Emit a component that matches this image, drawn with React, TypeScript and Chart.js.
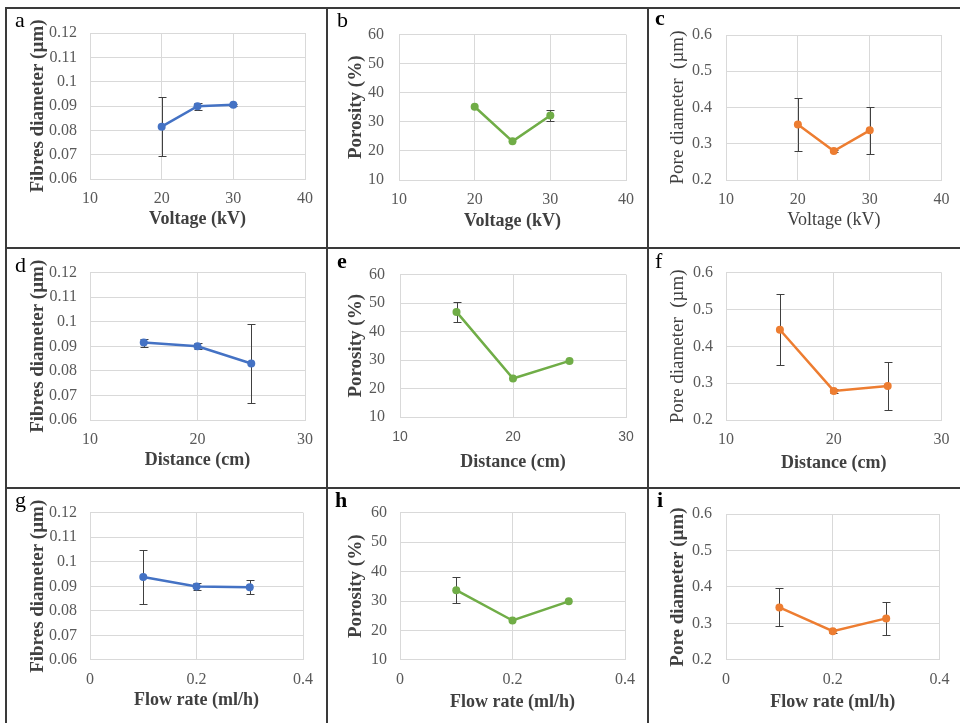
import React, { useEffect, useRef } from 'react';
import { Chart, registerables } from 'chart.js';

Chart.register(...registerables);

// ---------- data ----------
const voltage = [20, 25, 30];
const distance = [15, 20, 25];
const flowRate = [0.1, 0.2, 0.3];

const fibreVoltage = [0.0815, 0.0899, 0.0905];
const fibreVoltageErr = [0.012, 0.0014, 0.0005];
const porosityVoltage = [35.2, 23.3, 32.2];
const porosityVoltageErr = [0, 0, 2.0];
const poreVoltage = [0.353, 0.28, 0.337];
const poreVoltageErr = [0.073, 0.004, 0.065];

const fibreDistance = [0.0915, 0.09, 0.083];
const fibreDistanceErr = [0.0016, 0.0013, 0.016];
const porosityDistance = [46.9, 23.5, 29.7];
const porosityDistanceErr = [3.6, 0, 0];
const poreDistance = [0.445, 0.279, 0.292];
const poreDistanceErr = [0.096, 0.005, 0.065];

const fibreFlow = [0.0938, 0.0899, 0.0896];
const fibreFlowErr = [0.011, 0.0013, 0.0029];
const porosityFlow = [33.7, 23.4, 29.9];
const porosityFlowErr = [4.4, 0, 0];
const poreFlow = [0.344, 0.279, 0.314];
const poreFlowErr = [0.052, 0.005, 0.045];

const fibreTicks = [0.06, 0.07, 0.08, 0.09, 0.1, 0.11, 0.12];
const porosityTicks = [10, 20, 30, 40, 50, 60];
const poreTicks = [0.2, 0.3, 0.4, 0.5, 0.6];
const voltageTicks = [10, 20, 30, 40];
const distanceTicks = [10, 20, 30];
const flowTicks = [0, 0.2, 0.4];

const fibreTickLabels = ['0.06', '0.07', '0.08', '0.09', '0.1', '0.11', '0.12'];
const porosityTickLabels = ['10', '20', '30', '40', '50', '60'];
const poreTickLabels = ['0.2', '0.3', '0.4', '0.5', '0.6'];
const voltageTickLabels = ['10', '20', '30', '40'];
const distanceTickLabels = ['10', '20', '30'];
const flowTickLabels = ['0', '0.2', '0.4'];

// ---------- styles ----------
const BLUE = '#4472C4';
const GREEN = '#70AD47';
const ORANGE = '#ED7D31';
const SERIF = "'Liberation Serif', 'Times New Roman', serif";
const SANS = "'Liberation Sans', Arial, sans-serif";
const TICK_COLOR = '#595959';
const TITLE_COLOR = '#404040';
const GRID = '#D9D9D9';
const TICK_SIZE = 16;
const XT_SIZE = 18;
const YT_SIZE = 19;

type Box = { l: number; t: number; w: number; h: number };
type Plot = { l: number; r: number; t: number; b: number };

type Spec = {
  label: string; labelBold: boolean; labelX: number; labelBase: number;
  cell: Box; plot: Plot;
  xTitle: string; xTitleBold: boolean; xTitleY: number;
  yTitle: string; yTitleBold: boolean; yTitleX: number;
  xs: number[]; ys: number[]; errs: number[];
  xTicks: number[]; xTickLabels: string[]; yTicks: number[]; yTickLabels: string[];
  color: string; xTickFamily: string; xTickSize: number; yPad: number;
};

const COL = [
  { l: 8, w: 319 },
  { l: 329, w: 319 },
  { l: 650, w: 310 },
];
const ROW = [
  { t: 10, h: 238 },
  { t: 250, h: 238 },
  { t: 490, h: 233 },
];
const cell = (r: number, c: number): Box => ({ l: COL[c].l, t: ROW[r].t, w: COL[c].w, h: ROW[r].h });

const FIBRE_T = 'Fibres diameter (µm)';
const POROSITY_T = 'Porosity (%)';

const specs: Spec[] = [
  {
    label: 'a', labelBold: false, labelX: 15, labelBase: 27, cell: cell(0, 0),
    plot: { l: 90, r: 305, t: 33, b: 179 },
    xTitle: 'Voltage (kV)', xTitleBold: true, xTitleY: 219,
    yTitle: FIBRE_T, yTitleBold: true, yTitleX: 38,
    xs: voltage, ys: fibreVoltage, errs: fibreVoltageErr,
    xTicks: voltageTicks, xTickLabels: voltageTickLabels, yTicks: fibreTicks, yTickLabels: fibreTickLabels,
    color: BLUE, xTickFamily: SERIF, xTickSize: TICK_SIZE, yPad: 13,
  },
  {
    label: 'b', labelBold: false, labelX: 337, labelBase: 27, cell: cell(0, 1),
    plot: { l: 399, r: 626, t: 30, b: 180 },
    xTitle: 'Voltage (kV)', xTitleBold: true, xTitleY: 221,
    yTitle: POROSITY_T, yTitleBold: true, yTitleX: 356,
    xs: voltage, ys: porosityVoltage, errs: porosityVoltageErr,
    xTicks: voltageTicks, xTickLabels: voltageTickLabels, yTicks: porosityTicks, yTickLabels: porosityTickLabels,
    color: GREEN, xTickFamily: SERIF, xTickSize: TICK_SIZE, yPad: 15,
  },
  {
    label: 'c', labelBold: true, labelX: 655, labelBase: 25, cell: cell(0, 2),
    plot: { l: 726, r: 948, t: 35, b: 180 },
    xTitle: 'Voltage (kV)', xTitleBold: false, xTitleY: 220,
    yTitle: 'Pore diameter  (µm)', yTitleBold: false, yTitleX: 678,
    xs: voltage, ys: poreVoltage, errs: poreVoltageErr,
    xTicks: voltageTicks, xTickLabels: voltageTickLabels, yTicks: poreTicks, yTickLabels: poreTickLabels,
    color: ORANGE, xTickFamily: SERIF, xTickSize: TICK_SIZE, yPad: 14,
  },
  {
    label: 'd', labelBold: false, labelX: 15, labelBase: 272, cell: cell(1, 0),
    plot: { l: 90, r: 305, t: 271, b: 420 },
    xTitle: 'Distance (cm)', xTitleBold: true, xTitleY: 460,
    yTitle: FIBRE_T, yTitleBold: true, yTitleX: 38,
    xs: distance, ys: fibreDistance, errs: fibreDistanceErr,
    xTicks: distanceTicks, xTickLabels: distanceTickLabels, yTicks: fibreTicks, yTickLabels: fibreTickLabels,
    color: BLUE, xTickFamily: SERIF, xTickSize: TICK_SIZE, yPad: 13,
  },
  {
    label: 'e', labelBold: true, labelX: 337, labelBase: 268, cell: cell(1, 1),
    plot: { l: 400, r: 626, t: 274, b: 417 },
    xTitle: 'Distance (cm)', xTitleBold: true, xTitleY: 462,
    yTitle: POROSITY_T, yTitleBold: true, yTitleX: 356,
    xs: distance, ys: porosityDistance, errs: porosityDistanceErr,
    xTicks: distanceTicks, xTickLabels: distanceTickLabels, yTicks: porosityTicks, yTickLabels: porosityTickLabels,
    color: GREEN, xTickFamily: SANS, xTickSize: 14, yPad: 15,
  },
  {
    label: 'f', labelBold: false, labelX: 655, labelBase: 268, cell: cell(1, 2),
    plot: { l: 726, r: 948, t: 272, b: 420 },
    xTitle: 'Distance (cm)', xTitleBold: true, xTitleY: 463,
    yTitle: 'Pore diameter  (µm)', yTitleBold: false, yTitleX: 678,
    xs: distance, ys: poreDistance, errs: poreDistanceErr,
    xTicks: distanceTicks, xTickLabels: distanceTickLabels, yTicks: poreTicks, yTickLabels: poreTickLabels,
    color: ORANGE, xTickFamily: SERIF, xTickSize: TICK_SIZE, yPad: 13,
  },
  {
    label: 'g', labelBold: false, labelX: 15, labelBase: 507, cell: cell(2, 0),
    plot: { l: 90, r: 303, t: 512, b: 660 },
    xTitle: 'Flow rate (ml/h)', xTitleBold: true, xTitleY: 700,
    yTitle: FIBRE_T, yTitleBold: true, yTitleX: 38,
    xs: flowRate, ys: fibreFlow, errs: fibreFlowErr,
    xTicks: flowTicks, xTickLabels: flowTickLabels, yTicks: fibreTicks, yTickLabels: fibreTickLabels,
    color: BLUE, xTickFamily: SERIF, xTickSize: TICK_SIZE, yPad: 13,
  },
  {
    label: 'h', labelBold: true, labelX: 335, labelBase: 507, cell: cell(2, 1),
    plot: { l: 400, r: 625, t: 512, b: 660 },
    xTitle: 'Flow rate (ml/h)', xTitleBold: true, xTitleY: 702,
    yTitle: POROSITY_T, yTitleBold: true, yTitleX: 356,
    xs: flowRate, ys: porosityFlow, errs: porosityFlowErr,
    xTicks: flowTicks, xTickLabels: flowTickLabels, yTicks: porosityTicks, yTickLabels: porosityTickLabels,
    color: GREEN, xTickFamily: SERIF, xTickSize: TICK_SIZE, yPad: 13,
  },
  {
    label: 'i', labelBold: true, labelX: 657, labelBase: 507, cell: cell(2, 2),
    plot: { l: 726, r: 947, t: 514, b: 660 },
    xTitle: 'Flow rate (ml/h)', xTitleBold: true, xTitleY: 702,
    yTitle: 'Pore diameter (µm)', yTitleBold: true, yTitleX: 678,
    xs: flowRate, ys: poreFlow, errs: poreFlowErr,
    xTicks: flowTicks, xTickLabels: flowTickLabels, yTicks: poreTicks, yTickLabels: poreTickLabels,
    color: ORANGE, xTickFamily: SERIF, xTickSize: TICK_SIZE, yPad: 14,
  },
];

// ---------- error bar plugin ----------
const errorBarPlugin = {
  id: 'errorBars',
  beforeDatasetsDraw(chart: any, _args: any, opts: any) {
    const errs: number[] = (opts && opts.errors) || [];
    const xs = chart.scales.x;
    const ys = chart.scales.y;
    const ctx = chart.ctx;
    const ds = chart.data.datasets[0];
    ctx.save();
    ctx.strokeStyle = '#404040';
    ctx.lineWidth = 1;
    ds.data.forEach((pt: any, i: number) => {
      const e = errs[i];
      if (!e) return;
      const px = Math.round(xs.getPixelForValue(pt.x)) + 0.5;
      const top = Math.round(ys.getPixelForValue(pt.y + e)) + 0.5;
      const bot = Math.round(ys.getPixelForValue(pt.y - e)) + 0.5;
      ctx.beginPath();
      ctx.moveTo(px, top);
      ctx.lineTo(px, bot);
      ctx.moveTo(px - 4, top);
      ctx.lineTo(px + 4, top);
      ctx.moveTo(px - 4, bot);
      ctx.lineTo(px + 4, bot);
      ctx.stroke();
    });
    ctx.restore();
  },
};

function buildConfig(s: Spec): any {
  const c = s.cell;
  const xLineH = XT_SIZE * 1.2;
  const yLineH = YT_SIZE * 1.2;
  const xHeight = s.xTitleY - s.plot.b + xLineH / 2;
  const yLeft = s.yTitleX - yLineH / 2;
  const yWidth = s.plot.l - yLeft;
  const xTickPad = 20 - (s.xTickSize * 1.2) / 2;
  return {
    type: 'scatter',
    data: {
      datasets: [
        {
          data: s.xs.map((x, i) => ({ x, y: s.ys[i] })),
          showLine: true,
          borderColor: s.color,
          backgroundColor: s.color,
          pointBackgroundColor: s.color,
          pointBorderColor: s.color,
          borderWidth: 2.5,
          pointRadius: 4,
          pointHoverRadius: 4,
          pointBorderWidth: 0,
          tension: 0,
        },
      ],
    },
    options: {
      responsive: false,
      animation: false,
      devicePixelRatio: 1,
      events: [],
      layout: {
        padding: {
          left: yLeft - c.l,
          top: s.plot.t - c.t,
          right: c.l + c.w - s.plot.r,
          bottom: c.t + c.h - (s.plot.b + xHeight),
        },
      },
      plugins: {
        legend: { display: false },
        tooltip: { enabled: false },
        errorBars: { errors: s.errs },
      },
      scales: {
        x: {
          type: 'linear',
          min: s.xTicks[0],
          max: s.xTicks[s.xTicks.length - 1],
          afterBuildTicks: (sc: any) => {
            sc.ticks = s.xTicks.map((v) => ({ value: v }));
          },
          afterFit: (sc: any) => {
            sc.height = xHeight;
          },
          ticks: {
            autoSkip: false,
            maxRotation: 0,
            padding: xTickPad,
            color: TICK_COLOR,
            font: { family: s.xTickFamily, size: s.xTickSize },
            callback: (_v: any, i: number) => s.xTickLabels[i],
          },
          grid: { color: GRID, lineWidth: 1, drawTicks: false },
          border: { color: GRID, width: 1 },
          title: {
            display: true,
            text: s.xTitle,
            color: TITLE_COLOR,
            padding: 0,
            font: { family: SERIF, size: XT_SIZE, weight: s.xTitleBold ? 'bold' : 'normal' },
          },
        },
        y: {
          type: 'linear',
          min: s.yTicks[0],
          max: s.yTicks[s.yTicks.length - 1],
          afterBuildTicks: (sc: any) => {
            sc.ticks = s.yTicks.map((v) => ({ value: v }));
          },
          afterFit: (sc: any) => {
            sc.width = yWidth;
          },
          ticks: {
            autoSkip: false,
            padding: s.yPad,
            color: TICK_COLOR,
            font: { family: SERIF, size: TICK_SIZE },
            callback: (_v: any, i: number) => s.yTickLabels[i],
          },
          grid: { color: GRID, lineWidth: 1, drawTicks: false },
          border: { color: GRID, width: 1 },
          title: {
            display: true,
            text: s.yTitle,
            color: TITLE_COLOR,
            padding: 0,
            font: { family: SERIF, size: YT_SIZE, weight: s.yTitleBold ? 'bold' : 'normal' },
          },
        },
      },
    },
    plugins: [errorBarPlugin],
  };
}

function Panel({ spec }: { spec: Spec }) {
  const ref = useRef<HTMLCanvasElement>(null);
  useEffect(() => {
    const chart = new Chart(ref.current as HTMLCanvasElement, buildConfig(spec));
    return () => chart.destroy();
  }, [spec]);
  const c = spec.cell;
  return (
    <>
      <canvas
        ref={ref}
        width={c.w}
        height={c.h}
        style={{ position: 'absolute', left: c.l, top: c.t, width: c.w, height: c.h }}
      />
      <div
        style={{
          position: 'absolute',
          left: spec.labelX,
          top: spec.labelBase - 18,
          fontFamily: SERIF,
          fontSize: 22,
          lineHeight: '22px',
          fontWeight: spec.labelBold ? 'bold' : 'normal',
          color: '#000',
        }}
      >
        {spec.label}
      </div>
    </>
  );
}

const LINE = '#3a3a3a';

export default function App() {
  const line = (l: number, t: number, w: number, h: number) => (
    <div style={{ position: 'absolute', left: l, top: t, width: w, height: h, background: LINE }} />
  );
  return (
    <div
      style={{
        position: 'absolute',
        left: 0,
        top: 0,
        width: 960,
        height: 723,
        background: '#fff',
        overflow: 'hidden',
      }}
    >
      {line(5, 7, 955, 2)}
      {line(5, 247, 955, 2)}
      {line(5, 487, 955, 2)}
      {line(5, 7, 2, 716)}
      {line(326, 7, 2, 716)}
      {line(647, 7, 2, 716)}
      {specs.map((s) => (
        <Panel key={s.label} spec={s} />
      ))}
    </div>
  );
}
